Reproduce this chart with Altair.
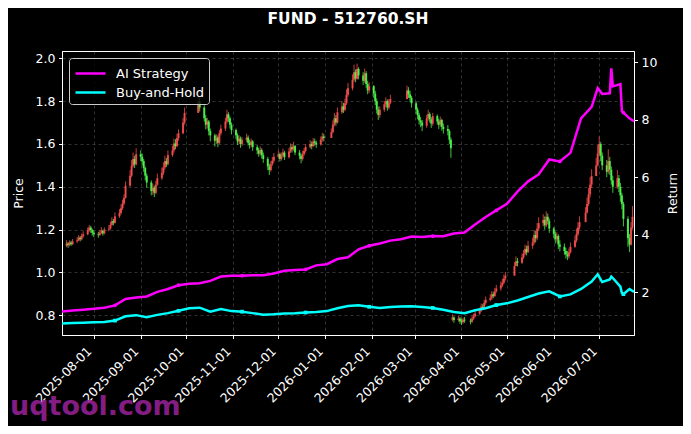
import pandas as pd
import altair as alt

# ---------------- data ----------------
title_text = "FUND - 512760.SH"
series_names = ["AI Strategy", "Buy-and-Hold"]
series_colors = ["#ff00ff", "#00ffff"]
up_color = "#ff5050"
down_color = "#50ff50"

x_domain = ["2025-07-11", "2026-07-24"]
x_ticks = ["2025-08-01", "2025-09-01", "2025-10-01", "2025-11-01", "2025-12-01",
           "2026-01-01", "2026-02-01", "2026-03-01", "2026-04-01", "2026-05-01",
           "2026-06-01", "2026-07-01"]
price_domain = [0.708, 2.034]
price_ticks = [0.8, 1.0, 1.2, 1.4, 1.6, 1.8, 2.0]
return_domain = [0.52, 10.39]
return_ticks = [2, 4, 6, 8, 10]

trade_start, trade_end = "2025-07-14", "2026-07-23"
holidays = ["2025-10-01", "2025-10-02", "2025-10-03", "2025-10-06", "2025-10-07", "2025-10-08",
            "2026-01-01", "2026-01-02",
            "2026-02-16", "2026-02-17", "2026-02-18", "2026-02-19", "2026-02-20", "2026-02-23",
            "2026-04-06", "2026-05-01", "2026-05-04", "2026-05-05", "2026-06-19"]

first_open = 1.125
# daily candles: (close, high, low[, open]); open defaults to previous close
m2025_07 = [(1.135, 1.150, 1.118), (1.128, 1.142, 1.115), (1.140, 1.150, 1.122), (1.132, 1.148, 1.124),
            (1.145, 1.156, 1.128), (1.150, 1.165, 1.138), (1.162, 1.175, 1.146), (1.155, 1.170, 1.145),
            (1.170, 1.182, 1.150), (1.178, 1.192, 1.162), (1.196, 1.210, 1.174), (1.210, 1.222, 1.190),
            (1.198, 1.218, 1.185), (1.185, 1.205, 1.172)]
m2025_08 = [(1.178, 1.196, 1.165), (1.175, 1.190, 1.162), (1.186, 1.198, 1.170), (1.195, 1.212, 1.180),
            (1.182, 1.200, 1.172), (1.200, 1.210, 1.178), (1.205, 1.222, 1.192), (1.222, 1.236, 1.200),
            (1.240, 1.258, 1.218), (1.232, 1.250, 1.220), (1.262, 1.280, 1.228), (1.278, 1.296, 1.255),
            (1.300, 1.318, 1.270), (1.322, 1.340, 1.292), (1.348, 1.365, 1.315), (1.405, 1.425, 1.345),
            (1.452, 1.478, 1.400), (1.498, 1.525, 1.445), (1.530, 1.560, 1.490), (1.505, 1.545, 1.488),
            (1.552, 1.580, 1.500)]
m2025_09 = [(1.540, 1.570, 1.520), (1.520, 1.555, 1.500), (1.488, 1.530, 1.470), (1.452, 1.495, 1.430),
            (1.420, 1.462, 1.395), (1.380, 1.430, 1.360), (1.395, 1.415, 1.362), (1.372, 1.405, 1.352),
            (1.410, 1.428, 1.365), (1.440, 1.462, 1.405), (1.465, 1.490, 1.432), (1.490, 1.515, 1.455),
            (1.520, 1.545, 1.480), (1.505, 1.535, 1.492), (1.548, 1.570, 1.500), (1.570, 1.592, 1.540),
            (1.602, 1.625, 1.560), (1.590, 1.622, 1.575), (1.628, 1.648, 1.585), (1.650, 1.668, 1.615),
            (1.700, 1.722, 1.645), (1.745, 1.770, 1.690)]
m2025_10 = [(1.800, 1.845, 1.750), (1.770, 1.818, 1.752), (1.720, 1.780, 1.705), (1.690, 1.735, 1.668),
            (1.705, 1.722, 1.672), (1.660, 1.712, 1.640), (1.640, 1.672, 1.612), (1.615, 1.648, 1.588),
            (1.630, 1.645, 1.600), (1.605, 1.640, 1.585), (1.650, 1.665, 1.598), (1.672, 1.690, 1.640),
            (1.705, 1.722, 1.660), (1.738, 1.760, 1.695), (1.720, 1.748, 1.702), (1.690, 1.728, 1.672),
            (1.665, 1.700, 1.645)]
m2025_11 = [(1.640, 1.672, 1.622), (1.612, 1.650, 1.595), (1.625, 1.640, 1.600), (1.600, 1.635, 1.582),
            (1.618, 1.632, 1.590), (1.630, 1.648, 1.608), (1.605, 1.640, 1.592), (1.595, 1.620, 1.578),
            (1.612, 1.625, 1.585), (1.585, 1.618, 1.568), (1.570, 1.595, 1.552), (1.555, 1.582, 1.540),
            (1.572, 1.588, 1.545), (1.548, 1.580, 1.532), (1.530, 1.560, 1.512), (1.495, 1.540, 1.478),
            (1.478, 1.508, 1.455), (1.505, 1.520, 1.470), (1.522, 1.540, 1.498), (1.540, 1.558, 1.512)]
m2025_12 = [(1.552, 1.570, 1.532), (1.530, 1.560, 1.518), (1.545, 1.560, 1.522), (1.560, 1.578, 1.538),
            (1.538, 1.568, 1.525), (1.565, 1.580, 1.532), (1.585, 1.602, 1.558), (1.575, 1.598, 1.560),
            (1.590, 1.610, 1.568), (1.560, 1.595, 1.548), (1.545, 1.572, 1.528), (1.530, 1.555, 1.510),
            (1.552, 1.568, 1.522), (1.568, 1.582, 1.545), (1.585, 1.600, 1.560), (1.600, 1.618, 1.578),
            (1.590, 1.612, 1.575), (1.612, 1.628, 1.585), (1.605, 1.625, 1.592), (1.598, 1.615, 1.582),
            (1.620, 1.635, 1.592), (1.635, 1.652, 1.610), (1.628, 1.648, 1.612)]
m2026_01 = [(1.655, 1.672, 1.628), (1.690, 1.710, 1.650), (1.720, 1.745, 1.682), (1.700, 1.735, 1.685),
            (1.748, 1.770, 1.695), (1.775, 1.800, 1.740), (1.760, 1.792, 1.745), (1.790, 1.812, 1.752),
            (1.830, 1.855, 1.782), (1.860, 1.885, 1.820), (1.900, 1.925, 1.850), (1.935, 1.970, 1.890),
            (1.905, 1.948, 1.888), (1.950, 1.975, 1.900), (1.920, 1.958, 1.902), (1.895, 1.935, 1.875),
            (1.930, 1.952, 1.885), (1.880, 1.940, 1.862), (1.850, 1.895, 1.832), (1.870, 1.888, 1.838)]
m2026_02 = [(1.835, 1.875, 1.815), (1.800, 1.848, 1.782), (1.760, 1.812, 1.742), (1.735, 1.775, 1.712),
            (1.760, 1.775, 1.722), (1.785, 1.800, 1.750), (1.800, 1.818, 1.772), (1.770, 1.808, 1.755),
            (1.792, 1.810, 1.762), (1.810, 1.830, 1.785), (1.850, 1.872, 1.808), (1.832, 1.865, 1.815),
            (1.815, 1.848, 1.795), (1.790, 1.825, 1.770)]
m2026_03 = [(1.760, 1.798, 1.740), (1.735, 1.770, 1.715), (1.710, 1.745, 1.690), (1.700, 1.725, 1.678),
            (1.685, 1.712, 1.660), (1.720, 1.735, 1.675), (1.740, 1.760, 1.708), (1.715, 1.748, 1.700),
            (1.695, 1.725, 1.675), (1.730, 1.745, 1.685), (1.705, 1.738, 1.690), (1.690, 1.718, 1.670),
            (1.712, 1.728, 1.680), (1.680, 1.718, 1.662), (1.670, 1.695, 1.648), (1.660, 1.688, 1.640),
            (1.620, 1.668, 1.600), (1.580, 1.630, 1.535), (0.790, 0.805, 0.772, 0.780), (0.778, 0.795, 0.765),
            (0.785, 0.798, 0.770), (0.772, 0.792, 0.760)]
m2026_04 = [(0.768, 0.785, 0.755), (0.780, 0.790, 0.760), (0.775, 0.792, 0.765), (0.770, 0.785, 0.758),
            (0.785, 0.798, 0.765), (0.795, 0.808, 0.778), (0.808, 0.820, 0.790), (0.822, 0.835, 0.802),
            (0.840, 0.855, 0.815), (0.835, 0.852, 0.825), (0.858, 0.872, 0.830), (0.872, 0.888, 0.850),
            (0.880, 0.898, 0.865), (0.898, 0.912, 0.872), (0.890, 0.910, 0.880), (0.912, 0.928, 0.885),
            (0.925, 0.942, 0.905), (0.940, 0.958, 0.915), (0.952, 0.970, 0.932), (0.972, 0.990, 0.945),
            (0.985, 1.002, 0.962)]
m2026_05 = [(1.030, 1.048, 1.005), (1.052, 1.075, 1.030), (1.045, 1.068, 1.028), (1.070, 1.088, 1.040),
            (1.088, 1.105, 1.062), (1.110, 1.130, 1.080), (1.095, 1.125, 1.080), (1.125, 1.148, 1.090),
            (1.140, 1.162, 1.110), (1.175, 1.198, 1.130), (1.160, 1.195, 1.140), (1.205, 1.232, 1.150),
            (1.230, 1.258, 1.195), (1.245, 1.272, 1.215), (1.220, 1.262, 1.200), (1.260, 1.285, 1.212),
            (1.240, 1.275, 1.225), (1.205, 1.252, 1.185)]
m2026_06 = [(1.180, 1.212, 1.160), (1.155, 1.192, 1.135), (1.170, 1.188, 1.140), (1.130, 1.178, 1.110),
            (1.120, 1.150, 1.098), (1.100, 1.135, 1.082), (1.085, 1.115, 1.065), (1.075, 1.100, 1.058),
            (1.095, 1.112, 1.065), (1.120, 1.140, 1.088), (1.150, 1.172, 1.115), (1.180, 1.205, 1.140),
            (1.210, 1.235, 1.170), (1.235, 1.262, 1.200), (1.280, 1.305, 1.235), (1.320, 1.350, 1.275),
            (1.365, 1.395, 1.310), (1.410, 1.445, 1.350), (1.450, 1.482, 1.395), (1.500, 1.535, 1.450),
            (1.555, 1.595, 1.495)]
m2026_07 = [(1.600, 1.635, 1.545), (1.545, 1.610, 1.520), (1.500, 1.560, 1.478), (1.470, 1.525, 1.445),
            (1.520, 1.575, 1.460), (1.480, 1.540, 1.455), (1.430, 1.495, 1.410), (1.400, 1.452, 1.372),
            (1.440, 1.478, 1.390), (1.400, 1.455, 1.375), (1.360, 1.418, 1.330), (1.320, 1.372, 1.295),
            (1.250, 1.330, 1.215), (1.160, 1.262, 1.120), (1.130, 1.180, 1.095), (1.210, 1.235, 1.125),
            (1.260, 1.310, 1.200)]

# weekly (Friday) strategy curves, plus a few extra daily points
line_start, line_end = "2025-07-11", "2026-07-24"
ai_weekly = [1.34, 1.37, 1.40, 1.43, 1.47, 1.55, 1.77, 1.82, 1.86, 2.02,
             2.12, 2.25, 2.30, 2.32, 2.40, 2.55, 2.58, 2.58, 2.60, 2.60,
             2.66, 2.75, 2.78, 2.80, 2.94, 2.98, 3.16, 3.22, 3.50, 3.62,
             3.70, 3.80, 3.85, 3.94, 3.93, 3.96, 3.95, 4.05, 4.08, 4.36,
             4.62, 4.85, 5.08, 5.50, 5.86, 6.10, 6.62, 6.55, 6.85, 8.05,
             8.45, 8.90, 9.16, 8.25, 7.95]
bh_weekly = [0.92, 0.94, 0.95, 0.96, 0.97, 1.02, 1.17, 1.21, 1.14, 1.22,
             1.28, 1.36, 1.45, 1.47, 1.33, 1.42, 1.35, 1.33, 1.28, 1.22,
             1.24, 1.27, 1.28, 1.30, 1.32, 1.35, 1.45, 1.53, 1.55, 1.50,
             1.46, 1.49, 1.51, 1.52, 1.49, 1.46, 1.40, 1.32, 1.28, 1.38,
             1.45, 1.56, 1.62, 1.72, 1.84, 1.96, 2.04, 1.86, 1.93, 2.12,
             2.38, 2.36, 2.50, 1.94, 2.02]
extra_dates = ["2026-06-30", "2026-07-08", "2026-07-09", "2026-07-15", "2026-07-16", "2026-07-21"]
extra_ai = [9.10, 8.92, 9.79, 9.24, 8.30, 8.05]
extra_bh = [2.63, 2.45, 2.55, 2.20, 1.98, 2.12]

watermark = "uqtool.com"

# ---------------- tables ----------------
days = pd.bdate_range(trade_start, trade_end)
days = [d for d in days if d.strftime("%Y-%m-%d") not in set(holidays)]
rows = (m2025_07 + m2025_08 + m2025_09 + m2025_10 + m2025_11 + m2025_12 +
        m2026_01 + m2026_02 + m2026_03 + m2026_04 + m2026_05 + m2026_06 + m2026_07)
recs = []
prev = first_open
for d, r in zip(days, rows):
    c, h, l = r[0], r[1], r[2]
    o = r[3] if len(r) > 3 else prev
    recs.append({"date": d.strftime("%Y-%m-%d"), "open": o, "close": c,
                 "high": max(h, o, c), "low": min(l, o, c)})
    prev = c
candles = pd.DataFrame(recs)

weeks = [d.strftime("%Y-%m-%d") for d in pd.date_range(line_start, line_end, freq="W-FRI")]
line_recs = []
for d, a, b in zip(weeks, ai_weekly, bh_weekly):
    line_recs.append({"date": d, "series": series_names[0], "value": a})
    line_recs.append({"date": d, "series": series_names[1], "value": b})
for d, a, b in zip(extra_dates, extra_ai, extra_bh):
    line_recs.append({"date": d, "series": series_names[0], "value": a})
    line_recs.append({"date": d, "series": series_names[1], "value": b})
lines = pd.DataFrame(line_recs).sort_values("date")

mark_recs = []
for i, (d, a, b) in enumerate(zip(weeks, ai_weekly, bh_weekly)):
    if i % 6 == 5:
        mark_recs.append({"date": d, "series": series_names[0], "value": a})
        mark_recs.append({"date": d, "series": series_names[1], "value": b})
markers = pd.DataFrame(mark_recs)


def dt(s):
    y, m, dd = (int(v) for v in s.split("-"))
    return alt.DateTime(year=y, month=m, date=dd, utc=True)


FONT = "DejaVu Sans"
x_scale = alt.Scale(type="utc", domain=[dt(x_domain[0]), dt(x_domain[1])])
price_scale = alt.Scale(domain=price_domain, nice=False, zero=False)
ret_scale = alt.Scale(domain=return_domain, nice=False, zero=False)

GRID = dict(gridColor="#808080", gridOpacity=0.55, gridDash=[3, 3], gridWidth=0.7)
x_axis = alt.Axis(values=[dt(s) for s in x_ticks], format="%Y-%m-%d", labelAngle=-45,
                  labelAlign="right", labelBaseline="top", labelPadding=6, labelOffset=-9,
                  tickSize=3.5, labelOverlap=False, labelBound=False, labelFlush=False,
                  grid=True, title=None, labelFontSize=12.5, **GRID)
price_axis = alt.Axis(values=price_ticks, format=".1f", title="Price", tickSize=3.5, labelPadding=3.5,
                      titlePadding=10, grid=True, labelFontSize=12.5, titleFontSize=12.5,
                      labelOverlap=False, titleFontWeight="normal", **GRID)
ret_axis = alt.Axis(orient="right", values=return_ticks, format="d", title="Return", tickSize=3.5,
                    labelPadding=3.5, titlePadding=10, grid=False, titleAngle=270,
                    titleBaseline="top", labelFontSize=12.5, titleFontSize=12.5,
                    labelOverlap=False, titleFontWeight="normal")

X = alt.X("date:T", scale=x_scale, axis=x_axis)

cond = alt.condition("datum.close >= datum.open", alt.value(up_color), alt.value(down_color))
base_c = alt.Chart(candles)
wick = base_c.mark_rule(strokeWidth=0.9, opacity=0.85).encode(
    x=X,
    y=alt.Y("low:Q", scale=price_scale, axis=price_axis),
    y2="high:Q",
    color=cond,
)
body = base_c.mark_rule(strokeWidth=2.0, opacity=0.85).encode(
    x=X,
    y=alt.Y("open:Q", scale=price_scale, axis=price_axis),
    y2="close:Q",
    color=cond,
)
candle_layer = alt.layer(wick, body)

line = alt.Chart(lines).mark_line(strokeWidth=2.5).encode(
    x=X,
    y=alt.Y("value:Q", scale=ret_scale, axis=ret_axis),
    color=alt.Color("series:N", scale=alt.Scale(domain=series_names, range=series_colors),
                    sort=series_names, title=None,
                    legend=alt.Legend(orient="top-left", offset=7, fillColor="rgba(0,0,0,0.8)",
                                      strokeColor="#cccccc", cornerRadius=3, padding=4,
                                      labelColor="white", labelFontSize=13, labelFont=FONT,
                                      symbolType="M-1.5,0L1.5,0", symbolSize=400,
                                      symbolStrokeWidth=2.5, symbolOffset=6, labelOffset=14,
                                      rowPadding=0)),
)
pts = alt.Chart(markers).mark_point(filled=True, size=14, opacity=1).encode(
    x=X,
    y=alt.Y("value:Q", scale=ret_scale, axis=ret_axis),
    color=alt.condition(alt.datum.series == series_names[0], alt.value(series_colors[0]),
                        alt.value(series_colors[1])),
    shape=alt.condition(alt.datum.series == series_names[0], alt.value("circle"), alt.value("square")),
)
line_layer = alt.layer(line, pts)

wm = alt.Chart(pd.DataFrame({"t": [watermark]})).mark_text(
    align="left", baseline="alphabetic", font=FONT, fontSize=27, fontWeight="bold",
    color="#922092", opacity=0.9,
).encode(text="t:N", x=alt.value(-52), y=alt.value(364))

chart = alt.layer(candle_layer, line_layer, wm).resolve_scale(y="independent").properties(
    width=572, height=284,
    autosize=alt.AutoSizeParams(type="none"),
    padding={"left": 54, "top": 43, "right": 49, "bottom": 91},
    background="#000000",
    title=alt.TitleParams(title_text, fontSize=15.5, fontWeight="bold", color="white", font=FONT,
                          anchor="middle", offset=24),
).configure_view(stroke="white", strokeWidth=1).configure_axis(
    labelColor="white", tickColor="white", domainColor="white", titleColor="white",
    labelFont=FONT, titleFont=FONT, domainWidth=1, tickWidth=1,
)

chart.save("out.html", embed_options={"renderer": "svg", "actions": False})
